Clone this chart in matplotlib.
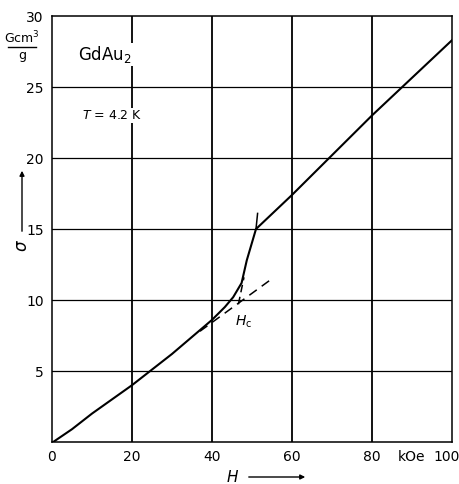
import matplotlib.pyplot as plt
from matplotlib.transforms import ScaledTranslation

plt.rcParams['font.family'] = ['Liberation Sans Narrow', 'DejaVu Sans']

# magnetisation curve of GdAu2 at 4.2 K
H_curve = [0.3, 5, 10, 20, 30, 40, 43.2, 45.3, 47.4, 48.7, 51, 60, 80, 100]
sigma_curve = [0, 0.9, 2.0, 4.0, 6.2, 8.6, 9.5, 10.2, 11.2, 12.8, 15.0, 17.4, 23.0, 28.3]

# dashed construction lines
H_low = [37, 55]
sigma_low = [7.8, 11.5]
H_steep = [46.6, 48.0]
sigma_steep = [9.7, 11.6]
H_up = [51.0, 51.4]
sigma_up = [15.0, 16.1]

x_ticks = [0, 20, 40, 60, 80, 100]
y_ticks = [5, 10, 15, 20, 25, 30]

fig = plt.figure(figsize=(4.6, 4.84), dpi=100)
ax = fig.add_axes([0.113, 0.0868, 0.8696, 0.880])

for x in x_ticks[1:-1]:
    ax.plot([x, x], [0, 30], color='black', lw=1.3, zorder=1)
for y in y_ticks[:-1]:
    ax.plot([0, 100], [y, y], color='black', lw=0.9, zorder=1)

ax.plot(H_curve, sigma_curve, color='black', lw=1.5, zorder=3)
ax.plot(H_low, sigma_low, color='black', lw=1.1, dashes=(6, 4), zorder=3)
ax.plot(H_steep, sigma_steep, color='black', lw=1.1, dashes=(5, 3), zorder=3)
ax.plot(H_up, sigma_up, color='black', lw=1.1, zorder=3)

ax.set_xlim(0, 100)
ax.set_ylim(0, 30)
ax.set_xticks(x_ticks)
ax.set_yticks(y_ticks)
ax.tick_params(length=0, labelsize=10, pad=6)
for s in ax.spines.values():
    s.set_linewidth(1.1)

# keep the "100" inside the picture
last = ax.get_xticklabels()[-1]
last.set_transform(last.get_transform() + ScaledTranslation(-5 / 100, 0, fig.dpi_scale_trans))

wb = dict(facecolor='white', edgecolor='none', pad=1)
ax.text(6.5, 27.3, 'GdAu$_2$', fontsize=12, va='center', ha='left', bbox=wb, zorder=4)
ax.text(7.5, 23.0, '$T$ = 4.2 K', fontsize=9, va='center', ha='left', bbox=wb, zorder=4)
ax.text(48.0, 8.45, '$H_\\mathrm{c}$', fontsize=10, ha='center', va='center', zorder=4)

# unit at top of the sigma axis, as a fraction
fig.text(22 / 460, 1 - 38 / 484, 'Gcm$^3$', fontsize=9, ha='center', va='center')
fig.lines.append(plt.Line2D([8 / 460, 36 / 460], [1 - 47 / 484, 1 - 47 / 484],
                            color='black', lw=1.0, transform=fig.transFigure))
fig.text(22 / 460, 1 - 56 / 484, 'g', fontsize=9, ha='center', va='center')

# kOe unit between last tick labels
ax.text(90, -0.55, 'kOe', fontsize=10, ha='center', va='top', clip_on=False)

# axis names with arrows
fig.text(22 / 460, 1 - 246 / 484, '$\\sigma$', fontsize=12, ha='center', va='center', rotation=90)
ax.annotate('', xy=(22 / 460, 1 - 168 / 484), xytext=(22 / 460, 1 - 234 / 484),
            xycoords='figure fraction', textcoords='figure fraction',
            arrowprops=dict(arrowstyle='-|>', color='black', lw=1.0, mutation_scale=7))
fig.text(233 / 460, 1 - 477 / 484, '$H$', fontsize=11, ha='center', va='center')
ax.annotate('', xy=(308 / 460, 1 - 477 / 484), xytext=(246 / 460, 1 - 477 / 484),
            xycoords='figure fraction', textcoords='figure fraction',
            arrowprops=dict(arrowstyle='-|>', color='black', lw=1.0, mutation_scale=7))

fig.savefig('out.png', dpi=100)
